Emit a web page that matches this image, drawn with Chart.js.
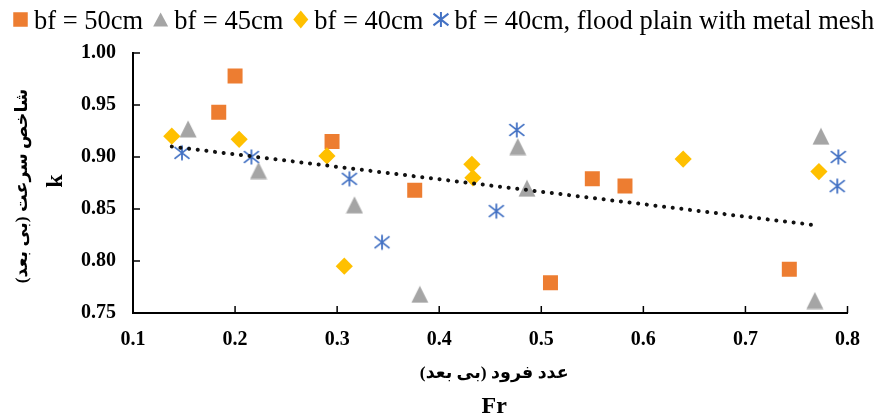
<!DOCTYPE html>
<html>
<head>
<meta charset="utf-8">
<script src="https://cdn.jsdelivr.net/npm/chart.js"></script>
<style>
  html, body { margin: 0; padding: 0; background: #fff; }
</style>
</head>
<body>
<canvas id="chart" width="875" height="417"></canvas>
<script>
// Fr / k measurements for each flood plain width
const squareX  = [0.184, 0.200, 0.295, 0.376, 0.509, 0.550, 0.582, 0.743];
const squareY  = [0.943, 0.978, 0.915, 0.868, 0.779, 0.879, 0.872, 0.792];
const triX     = [0.154, 0.223, 0.317, 0.381, 0.477, 0.486, 0.768, 0.774];
const triY     = [0.927, 0.887, 0.854, 0.768, 0.910, 0.870, 0.762, 0.920];
const diamondX = [0.138, 0.204, 0.290, 0.307, 0.432, 0.433, 0.639, 0.772];
const diamondY = [0.920, 0.917, 0.901, 0.795, 0.893, 0.880, 0.898, 0.886];
const meshX    = [0.148, 0.216, 0.312, 0.344, 0.456, 0.476, 0.790, 0.791];
const meshY    = [0.904, 0.900, 0.879, 0.818, 0.848, 0.926, 0.872, 0.900];

// linear trend end points
const trendX = [0.138, 0.772];
const trendY = [0.910, 0.834];

const seriesLabels = ['bf = 50cm', 'bf = 45cm', 'bf = 40cm', 'bf = 40cm, flood plain with metal mesh'];
const xTitle = ['عدد فرود (بی بعد)', 'Fr'];
const yTitle = ['شاخص سرعت (بی بعد)', 'k'];

const ORANGE = '#ED7D31';
const GRAY = '#A5A5A5';
const GOLD = '#FFC000';
const BLUE = '#4472C4';
const FONT = '"Liberation Serif", "Times New Roman", "DejaVu Sans", serif';

const pts = (xs, ys) => xs.map((x, i) => ({ x: x, y: ys[i] }));

function paintSquare(g, cx, cy, s, color) {
  g.fillStyle = color;
  g.fillRect(cx - s / 2, cy - s / 2, s, s);
}

function paintDiamond(g, cx, cy, w, h, color) {
  g.fillStyle = color;
  g.beginPath();
  g.moveTo(cx, cy - h / 2);
  g.lineTo(cx + w / 2, cy);
  g.lineTo(cx, cy + h / 2);
  g.lineTo(cx - w / 2, cy);
  g.closePath();
  g.fill();
}

function paintTriangle(g, cx, cy, w, h, color) {
  g.fillStyle = color;
  g.beginPath();
  g.moveTo(cx, cy - h / 2);
  g.lineTo(cx + w / 2, cy + h / 2);
  g.lineTo(cx - w / 2, cy + h / 2);
  g.closePath();
  g.fill();
}

function paintAsterisk(g, cx, cy, s, color, lw) {
  const r = s / 2;
  g.strokeStyle = color;
  g.lineWidth = lw;
  g.beginPath();
  g.moveTo(cx, cy - r);
  g.lineTo(cx, cy + r);
  g.moveTo(cx - r, cy - r * 0.78);
  g.lineTo(cx + r, cy + r * 0.78);
  g.moveTo(cx - r, cy + r * 0.78);
  g.lineTo(cx + r, cy - r * 0.78);
  g.stroke();
}

function markerCanvas(size, paint) {
  const c = document.createElement('canvas');
  c.width = size;
  c.height = size;
  paint(c.getContext('2d'), size / 2);
  return c;
}

const triangleImg = markerCanvas(18, (g, m) => paintTriangle(g, m, m, 17, 17, GRAY));
const asteriskImg = markerCanvas(18, (g, m) => paintAsterisk(g, m, m, 15, BLUE, 1.8));

// legend row drawn across the top
const topLegend = {
  id: 'topLegend',
  afterDraw(chart) {
    const ctx = chart.ctx;
    const cy = 19.5;
    let x = 13;
    ctx.save();
    ctx.font = '26.5px ' + FONT;
    ctx.textBaseline = 'alphabetic';
    seriesLabels.forEach((label, i) => {
      const mx = x + 7.5;
      if (i === 0) paintSquare(ctx, mx, cy, 14.5, ORANGE);
      if (i === 1) paintTriangle(ctx, mx, cy, 15, 14, GRAY);
      if (i === 2) paintDiamond(ctx, mx, cy, 15, 18, GOLD);
      if (i === 3) paintAsterisk(ctx, mx, cy, 15, BLUE, 2);
      const tx = x + 21;
      ctx.fillStyle = '#000';
      ctx.fillText(label, tx, 29);
      x = tx + ctx.measureText(label).width + 10;
    });
    ctx.restore();
  }
};

// two-line axis titles: Persian caption above the symbol
const axisTitles = {
  id: 'axisTitles',
  afterDraw(chart) {
    const { ctx, chartArea: a } = chart;
    const cx = (a.left + a.right) / 2 + 4;
    const cy = (a.top + a.bottom) / 2;
    ctx.save();
    ctx.fillStyle = '#000';
    ctx.textAlign = 'center';
    ctx.textBaseline = 'middle';

    ctx.font = 'bold 17.5px ' + FONT;
    ctx.fillText(xTitle[0], cx, a.bottom + 60);
    ctx.font = 'bold 24px ' + FONT;
    ctx.fillText(xTitle[1], cx, a.bottom + 94);

    ctx.translate(0, cy);
    ctx.rotate(-Math.PI / 2);
    ctx.font = 'bold 17.5px ' + FONT;
    ctx.fillText(yTitle[0], -3, 22);
    ctx.font = 'bold 24px ' + FONT;
    ctx.fillText(yTitle[1], 2, 56);
    ctx.restore();
  }
};

// short tick marks pointing into the plot area
const innerTicks = {
  id: 'innerTicks',
  beforeDatasetsDraw(chart) {
    const { ctx, scales: { x, y } } = chart;
    ctx.save();
    ctx.strokeStyle = '#000';
    ctx.lineWidth = 1.5;
    x.ticks.forEach((t, i) => {
      const px = x.getPixelForTick(i);
      ctx.beginPath();
      ctx.moveTo(px, x.top);
      ctx.lineTo(px, x.top - 7);
      ctx.stroke();
    });
    y.ticks.forEach((t, i) => {
      const py = y.getPixelForTick(i);
      ctx.beginPath();
      ctx.moveTo(y.right, py);
      ctx.lineTo(y.right + 7, py);
      ctx.stroke();
    });
    ctx.restore();
  }
};

const ctx = document.getElementById('chart').getContext('2d');

new Chart(ctx, {
  type: 'scatter',
  data: {
    datasets: [
      {
        label: 'trend',
        data: pts(trendX, trendY),
        showLine: true,
        borderColor: '#111',
        borderWidth: 4,
        borderDash: [0.1, 8.6],
        borderCapStyle: 'round',
        pointRadius: 0,
        fill: false,
        order: 0,
      },
      {
        label: seriesLabels[0],
        data: pts(squareX, squareY),
        pointStyle: 'rect',
        pointRadius: 10.6,
        backgroundColor: ORANGE,
        borderWidth: 0,
        order: 4,
      },
      {
        label: seriesLabels[1],
        data: pts(triX, triY),
        pointStyle: triangleImg,
        order: 3,
      },
      {
        label: seriesLabels[2],
        data: pts(diamondX, diamondY),
        pointStyle: 'rectRot',
        pointRadius: 8.6,
        backgroundColor: GOLD,
        borderWidth: 0,
        order: 2,
      },
      {
        label: seriesLabels[3],
        data: pts(meshX, meshY),
        pointStyle: asteriskImg,
        order: 1,
      },
    ],
  },
  options: {
    responsive: false,
    animation: false,
    events: [],
    layout: { padding: { top: 53, right: 27, left: 0, bottom: 0 } },
    plugins: {
      legend: { display: false },
      tooltip: { enabled: false },
    },
    scales: {
      x: {
        type: 'linear',
        min: 0.1,
        max: 0.8,
        ticks: {
          stepSize: 0.1,
          padding: 15,
          color: '#000',
          font: { family: FONT, size: 20, weight: 'bold' },
          callback: (v) => v.toFixed(1),
        },
        grid: { display: false, drawTicks: false },
        border: { display: true, color: '#000', width: 2 },
        afterFit: (scale) => { scale.height = 104; },
      },
      y: {
        type: 'linear',
        min: 0.75,
        max: 1.0,
        ticks: {
          stepSize: 0.05,
          padding: 17,
          color: '#000',
          font: { family: FONT, size: 20, weight: 'bold' },
          callback: (v) => v.toFixed(2),
        },
        grid: { display: false, drawTicks: false },
        border: { display: true, color: '#000', width: 2 },
        afterFit: (scale) => { scale.width = 133; },
      },
    },
  },
  plugins: [innerTicks, topLegend, axisTitles],
});
</script>
</body>
</html>
